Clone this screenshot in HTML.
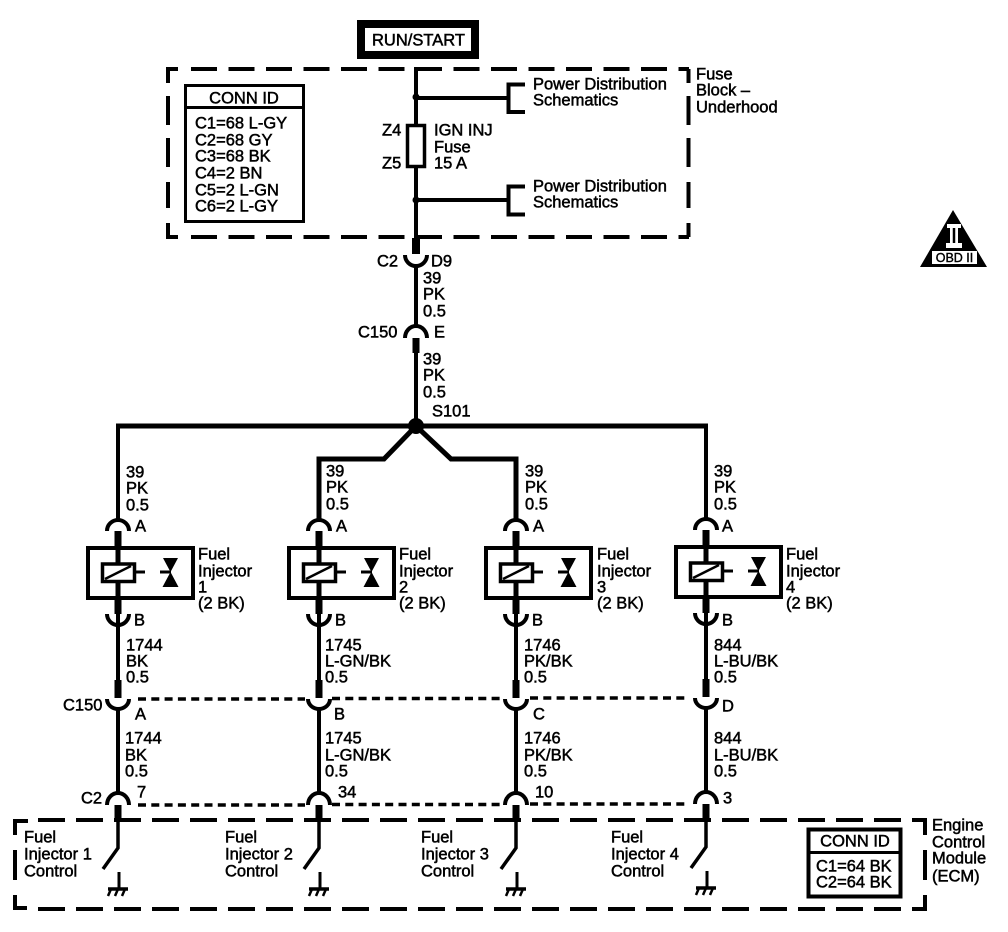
<!DOCTYPE html>
<html><head><meta charset="utf-8"><style>
html,body{margin:0;padding:0;background:#fff}
svg{display:block}
text{font-family:"Liberation Sans",sans-serif;font-size:16.5px;fill:#000;stroke:#000;stroke-width:.5;transform:translate(0,.7px)}
.c{text-anchor:middle}
</style></head><body>
<svg width="1008" height="932" viewBox="0 0 1008 932" xmlns="http://www.w3.org/2000/svg">
<defs>
<g id="inj" fill="none" stroke="#000">
<path d="M-11 531A11 11 0 0 1 11 531" stroke-width="4"/>
<rect x="-30" y="548" width="105" height="50" stroke-width="4" fill="#fff"/>
<path d="M0 531V549" stroke-width="7"/>
<path d="M0 549V563" stroke-width="5"/>
<path d="M0 583V598" stroke-width="5"/>
<path d="M0 598V614" stroke-width="7"/>
<rect x="-15.500" y="564" width="32" height="17.500" stroke-width="3.500" fill="#fff"/>
<path d="M-13 579L13 566" stroke-width="2.500"/>
<path d="M17 572H27" stroke-width="3"/>
<path d="M42 572H53" stroke-width="3"/>
<path d="M45 558H60L52.500 572L60.500 587H44.500L52.500 572Z" fill="#000" stroke="none"/>
<path d="M-11 614A11 11 0 0 0 11 614" stroke-width="4"/>
<path d="M0 614V680" stroke-width="4"/>
<path d="M0 680V698" stroke-width="7"/>
<path d="M-11 699A11 10 0 0 0 11 699" stroke-width="4"/>
<path d="M0 708V793" stroke-width="4"/>
<path d="M-11 805A11 12 0 0 1 11 805" stroke-width="4"/>
<path d="M0 805V821" stroke-width="7"/>
<path d="M0 821V848L-15 869" stroke-width="3.500"/>
<path d="M1 872V889" stroke-width="3"/>
<path d="M-10 889H10" stroke-width="3.500"/>
<path d="M-7 889L-10 896M0 889L-3 896M7 889L4 896" stroke-width="2.500"/>
</g>
</defs>

<!-- RUN/START -->
<rect x="361" y="24" width="114" height="31" fill="#fff" stroke="#000" stroke-width="8"/>
<text x="372" y="45">RUN/START</text>

<!-- Fuse block dashed -->
<g fill="none" stroke="#000" stroke-width="4">
<path d="M168 83V69H178"/>
<path d="M168 96V125M168 138V167M168 182V208M168 223V237H178"/>
<path stroke-dasharray="26 11.500" d="M191 69H689"/>
<path stroke-dasharray="26 11.500" d="M191 237H689"/>
<path d="M688.500 69V83M688.500 96V125M688.500 138V167M688.500 182V208M688.500 223V237"/>
</g>

<!-- Conn ID 1 -->
<rect x="185.500" y="85.500" width="118" height="136" fill="#fff" stroke="#000" stroke-width="3"/>
<path d="M185 107.500H304" stroke="#000" stroke-width="3"/>
<text class="c" x="244" y="103">CONN ID</text>
<text x="195" y="128">C1=68 L-GY</text>
<text x="195" y="145">C2=68 GY</text>
<text x="195" y="161">C3=68 BK</text>
<text x="195" y="178">C4=2 BN</text>
<text x="195" y="195">C5=2 L-GN</text>
<text x="195" y="211">C6=2 L-GY</text>

<!-- Main feed -->
<g fill="none" stroke="#000">
<path d="M416 67V238" stroke-width="4"/>
<path d="M416 238V254" stroke-width="8"/>
<path d="M405 255A11 11 0 0 0 427 255" stroke-width="4"/>
<path d="M416 266V327" stroke-width="4"/>
<path d="M405 338A11 12 0 0 1 427 338" stroke-width="4"/>
<path d="M416 338V353" stroke-width="7"/>
<path d="M416 353V426" stroke-width="4"/>
<rect x="407.500" y="125.500" width="17" height="41" fill="#fff" stroke-width="3.500"/>
<path d="M416 98H509M416 200H509" stroke-width="4"/>
<path d="M525 84.500H508.500V112H525M525 186.500H508.500V214.500H525" stroke-width="4"/>
<path d="M118 426V520M706 426V520" stroke-width="4"/>
<path d="M116 426H708" stroke-width="5"/>
<path d="M319 520V459H384L416 426L451 459H516V520" stroke-width="5"/>
</g>
<circle cx="416" cy="97" r="3.500"/>
<circle cx="416" cy="200" r="3.500"/>
<circle cx="416" cy="426" r="8"/>

<text x="382" y="135">Z4</text>
<text x="382" y="168">Z5</text>
<text x="434" y="135">IGN INJ</text>
<text x="434" y="152">Fuse</text>
<text x="434" y="168">15 A</text>
<text x="533" y="89">Power Distribution</text>
<text x="533" y="105">Schematics</text>
<text x="533" y="191">Power Distribution</text>
<text x="533" y="207">Schematics</text>
<text x="696" y="79">Fuse</text>
<text x="696" y="95">Block –</text>
<text x="696" y="112">Underhood</text>
<text x="377" y="266">C2</text>
<text x="431" y="266">D9</text>
<text x="423" y="283">39</text>
<text x="423" y="299">PK</text>
<text x="423" y="316">0.5</text>
<text x="358" y="337">C150</text>
<text x="434" y="337">E</text>
<text x="423" y="364">39</text>
<text x="423" y="380">PK</text>
<text x="423" y="397">0.5</text>
<text x="432" y="416">S101</text>

<!-- Injector columns -->
<use href="#inj" x="118"/>
<use href="#inj" x="319"/>
<use href="#inj" x="516"/>
<use href="#inj" x="706" y="-1"/>

<!-- Dashed connectors -->
<g fill="none" stroke="#000" stroke-width="3.500" stroke-dasharray="8 5.300">
<path d="M138 699H305M332 698.500H502M530 698H686"/>
<path d="M138 805H305M332 804.500H502M530 804H686"/>
</g>

<!-- ECM dashed -->
<g fill="none" stroke="#000" stroke-width="4">
<path d="M15 835V821H28"/>
<path d="M15 850V880M15 895V908H27"/>
<path stroke-dasharray="27 11" d="M38 820H912"/>
<path stroke-dasharray="27 11" d="M38 909H912"/>
<path d="M912 820H925V835M925 850V880M925 895V909H912"/>
</g>

<!-- Wire labels: injector 1 -->
<text x="126" y="477">39</text><text x="126" y="493">PK</text><text x="126" y="510">0.5</text>
<text x="135" y="531">A</text>
<text x="198" y="559">Fuel</text><text x="198" y="576">Injector</text><text x="198" y="592">1</text><text x="198" y="608">(2 BK)</text>
<text x="134" y="625">B</text>
<text x="126" y="650">1744</text><text x="126" y="666">BK</text><text x="126" y="682">0.5</text>
<text x="63" y="710">C150</text><text x="135" y="719">A</text>
<text x="125" y="743">1744</text><text x="125" y="760">BK</text><text x="125" y="776">0.5</text>
<text x="81" y="803">C2</text><text x="137" y="797">7</text>
<text x="24" y="842">Fuel</text><text x="24" y="859">Injector 1</text><text x="24" y="876">Control</text>

<!-- injector 2 -->
<text x="326" y="476">39</text><text x="326" y="492">PK</text><text x="326" y="509">0.5</text>
<text x="336" y="531">A</text>
<text x="399" y="559">Fuel</text><text x="399" y="576">Injector</text><text x="399" y="592">2</text><text x="399" y="608">(2 BK)</text>
<text x="335" y="625">B</text>
<text x="325" y="650">1745</text><text x="325" y="666">L-GN/BK</text><text x="325" y="682">0.5</text>
<text x="334" y="719">B</text>
<text x="325" y="743">1745</text><text x="325" y="760">L-GN/BK</text><text x="325" y="776">0.5</text>
<text x="338" y="797">34</text>
<text x="225" y="842">Fuel</text><text x="225" y="859">Injector 2</text><text x="225" y="876">Control</text>

<!-- injector 3 -->
<text x="525" y="476">39</text><text x="525" y="492">PK</text><text x="525" y="509">0.5</text>
<text x="533" y="531">A</text>
<text x="597" y="559">Fuel</text><text x="597" y="576">Injector</text><text x="597" y="592">3</text><text x="597" y="608">(2 BK)</text>
<text x="532" y="625">B</text>
<text x="524" y="650">1746</text><text x="524" y="666">PK/BK</text><text x="524" y="682">0.5</text>
<text x="533" y="719">C</text>
<text x="524" y="743">1746</text><text x="524" y="760">PK/BK</text><text x="524" y="776">0.5</text>
<text x="535" y="797">10</text>
<text x="421" y="842">Fuel</text><text x="421" y="859">Injector 3</text><text x="421" y="876">Control</text>

<!-- injector 4 -->
<text x="714" y="476">39</text><text x="714" y="492">PK</text><text x="714" y="509">0.5</text>
<text x="722" y="531">A</text>
<text x="786" y="559">Fuel</text><text x="786" y="576">Injector</text><text x="786" y="592">4</text><text x="786" y="608">(2 BK)</text>
<text x="722" y="625">B</text>
<text x="714" y="650">844</text><text x="714" y="666">L-BU/BK</text><text x="714" y="682">0.5</text>
<text x="722" y="711">D</text>
<text x="714" y="743">844</text><text x="714" y="760">L-BU/BK</text><text x="714" y="776">0.5</text>
<text x="723" y="803">3</text>
<text x="611" y="842">Fuel</text><text x="611" y="859">Injector 4</text><text x="611" y="876">Control</text>

<!-- ECM -->
<rect x="808.500" y="829.500" width="92" height="67" fill="#fff" stroke="#000" stroke-width="4"/>
<path d="M807 852.500H902" stroke="#000" stroke-width="3"/>
<text class="c" x="855" y="846">CONN ID</text>
<text x="816" y="871">C1=64 BK</text>
<text x="816" y="887">C2=64 BK</text>
<text x="932" y="830">Engine</text>
<text x="932" y="847">Control</text>
<text x="932" y="863">Module</text>
<text x="932" y="881">(ECM)</text>

<!-- OBD II -->
<path d="M953 210L987 267H920Z"/>
<rect x="932" y="251" width="45" height="13" fill="#fff"/>
<path d="M947 224H961V228H958V243H962V248H946V243H950V228H947Z" fill="#fff"/>
<path d="M954 228V243" stroke="#000" stroke-width="2.500"/>
<text class="c" x="954.500" y="261.500" style="font-size:12.500px;stroke-width:.4">OBD II</text>
</svg>
</body></html>
